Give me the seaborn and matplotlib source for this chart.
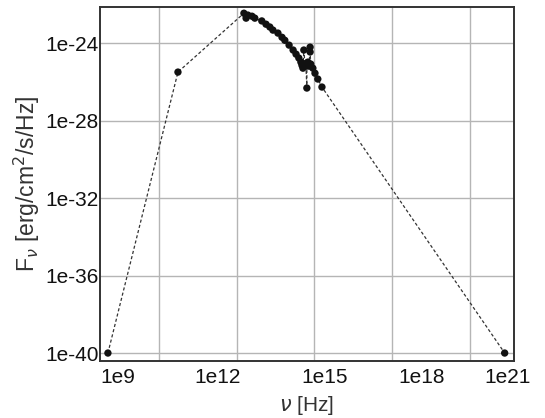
import matplotlib
matplotlib.use("Agg")
import matplotlib.pyplot as plt
import matplotlib.transforms as mtransforms
from matplotlib.ticker import FixedLocator, NullFormatter
import seaborn as sns
import pandas as pd

# ---- data ----
freq_hz = [1.07e7, 5.4e9, 1.9e12, 2.3e12, 2.7e12, 3.9e12, 5.0e12, 9.3e12, 1.35e13,
           1.9e13, 2.5e13, 3.9e13, 5.6e13, 7.2e13, 1.05e14, 1.5e14, 1.95e14, 2.5e14,
           3.0e14, 3.3e14, 3.6e14, 3.9e14, 4.3e14, 4.7e14, 5.1e14, 5.1e14, 5.6e14,
           6.2e14, 6.8e14, 6.8e14, 7.2e14, 8.7e14, 1.05e15, 1.35e15, 1.95e15, 2.2e22]
flux = [1e-40, 3.2e-26, 3.5e-23, 1.95e-23, 2.8e-23, 2.45e-23, 1.95e-23, 1.4e-23, 9.5e-24,
        6.8e-24, 4.7e-24, 3.3e-24, 2.0e-24, 1.4e-24, 7.9e-25, 4.4e-25, 2.7e-25, 1.7e-25,
        1.05e-25, 7.2e-26, 5.1e-26, 4.4e-25, 8.3e-26, 6.5e-26, 4.8e-27, 9.3e-26, 1.05e-25,
        6.5e-26, 6.2e-25, 3.5e-25, 8.3e-26, 5.1e-26, 2.8e-26, 1.4e-26, 5.4e-27, 1e-40]

x_ticks = [1e9, 1e12, 1e15, 1e18, 1e21]
x_tick_labels = ["1e9", "1e12", "1e15", "1e18", "1e21"]
y_ticks = [1e-40, 1e-36, 1e-32, 1e-28, 1e-24]
y_tick_labels = ["1e-40", "1e-36", "1e-32", "1e-28", "1e-24"]

df = pd.DataFrame({"nu": freq_hz, "F": flux})

sns.set_theme(style="white")
plt.rcParams["font.family"] = ["Liberation Sans", "DejaVu Sans"]
plt.rcParams["mathtext.fontset"] = "dejavusans"

fig = plt.figure(figsize=(5.45, 4.18), dpi=100)
ax = fig.add_axes([0.1835, 0.1364, 0.7595, 0.8466])

sns.lineplot(data=df, x="nu", y="F", ax=ax, sort=False, estimator=None,
             color="#333333", linewidth=0.9, linestyle=(0, (2.5, 1.8)))
sns.scatterplot(data=df, x="nu", y="F", ax=ax, color="#111111", s=28,
                edgecolor="none", zorder=3)

ax.set_xscale("log")
ax.set_yscale("log")
ax.set_xlim(10**6.724, 10**22.70)
ax.set_ylim(10**-40.41, 10**-22.14)

ax.xaxis.set_major_locator(FixedLocator(x_ticks))
ax.set_xticklabels(x_tick_labels)
ax.xaxis.set_minor_locator(FixedLocator([10.0**k for k in range(7, 23) if k % 3 != 0]))
ax.xaxis.set_minor_formatter(NullFormatter())
ax.yaxis.set_major_locator(FixedLocator(y_ticks))
ax.set_yticklabels(y_tick_labels)
ax.yaxis.set_minor_locator(FixedLocator([1e-38, 1e-34, 1e-30, 1e-26, 1e-22]))
ax.yaxis.set_minor_formatter(NullFormatter())

ax.tick_params(axis="both", which="major", direction="in", length=4, width=1,
               color="#333333", labelsize=15, labelcolor="#111111")
ax.tick_params(axis="x", which="major", pad=5)
ax.tick_params(axis="y", which="major", pad=1)
ax.tick_params(axis="both", which="minor", direction="in", length=2.5, width=0.8,
               color="#555555")

ax.grid(True, which="major", color="#b5b5b5", linewidth=1.0)
for sp in ax.spines.values():
    sp.set_color("#333333")
    sp.set_linewidth(1.4)

# horizontal label shifts seen in the reference (pixels)
label_shift_px = [-41, -19, 10, 29, 38]
for lab, dx in zip(ax.get_xticklabels(), label_shift_px):
    off = mtransforms.ScaledTranslation(dx / 100.0, 0, fig.dpi_scale_trans)
    lab.set_transform(lab.get_transform() + off)

ax.set_xlabel(r"$\nu$ [Hz]", fontsize=15, color="#333333", labelpad=5)
ax.set_ylabel(r"F$_\nu$ [erg/cm$^2$/s/Hz]", fontsize=16.5, color="#333333", labelpad=2)

fig.savefig("out.png", dpi=100)
